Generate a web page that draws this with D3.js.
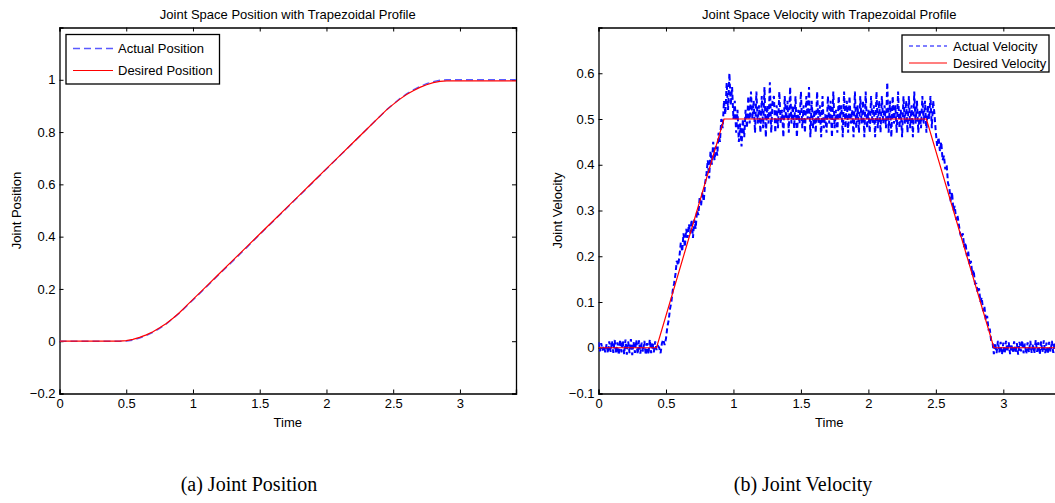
<!DOCTYPE html>
<html>
<head>
<meta charset="utf-8">
<script src="https://cdn.jsdelivr.net/npm/d3@7"></script>
<style>
  body { margin: 0; background: #fff; }
  svg text { font-family: "Liberation Sans", Arial, sans-serif; fill: #000; }
  .caption { font-family: "Liberation Serif", "DejaVu Serif", serif; }
</style>
</head>
<body>
<div id="svg_div"></div>
<script>
// Position data (time, desired, actual)
var posTime = [0, 0.1, 0.2, 0.3, 0.4, 0.45, 0.5, 0.55, 0.6, 0.65, 0.7, 0.75, 0.8, 0.85, 0.9, 0.95,
    1.0, 1.1, 1.2, 1.3, 1.4, 1.5, 1.6, 1.7, 1.8, 1.9, 2.0, 2.1, 2.2, 2.3, 2.4, 2.45,
    2.5, 2.55, 2.6, 2.65, 2.7, 2.75, 2.8, 2.85, 2.9, 3.0, 3.2, 3.42];
var posDesired = [0, 0, 0, 0, 0, 0.0002, 0.0025, 0.0072, 0.0145, 0.0242, 0.0365, 0.0512, 0.068, 0.088, 0.11, 0.135,
    0.16, 0.21, 0.26, 0.31, 0.36, 0.41, 0.46, 0.51, 0.56, 0.61, 0.66, 0.71, 0.76, 0.81, 0.86, 0.885,
    0.906, 0.926, 0.944, 0.958, 0.971, 0.981, 0.989, 0.994, 0.996, 0.996, 0.996, 0.996];
var posActual = [0, 0, 0, 0, 0, 0, 0.0005, 0.004, 0.012, 0.022, 0.034, 0.049, 0.066, 0.087, 0.108, 0.133,
    0.158, 0.207, 0.258, 0.307, 0.357, 0.408, 0.458, 0.508, 0.558, 0.608, 0.659, 0.709, 0.759, 0.81, 0.86, 0.885,
    0.907, 0.928, 0.946, 0.961, 0.974, 0.985, 0.993, 0.998, 1.0, 1.0, 1.0, 1.0];

// Velocity data
var velDesiredTime = [0, 0.43, 0.93, 2.43, 2.93, 3.42];
var velDesired = [0, 0, 0.5, 0.5, 0, 0];
var velStep = 0.01;   // sample spacing of the measured velocity
var velActual = [
    0.012, -0.008, 0.010, -0.006, 0.004, -0.010, 0.008, -0.012, 0.014, -0.009,
    0.015, -0.011, 0.017, -0.013, 0.012, -0.016, 0.018, -0.010, 0.016, -0.014,
    0.018, -0.015, 0.014, -0.012, 0.019, -0.016, 0.013, -0.011, 0.017, -0.014,
    0.016, -0.013, 0.011, -0.009, 0.015, -0.016, 0.010, -0.015, 0.018, -0.012,
    0.012, -0.010, 0.014, -0.005, 0.004, 0.000, -0.012, 0.010, 0.018, 0.006,
    0.020, 0.045, 0.060, 0.085, 0.100, 0.125, 0.140, 0.160, 0.190, 0.180,
    0.200, 0.230, 0.210, 0.250, 0.220, 0.260, 0.240, 0.270, 0.250, 0.280,
    0.240, 0.280, 0.260, 0.300, 0.290, 0.330, 0.310, 0.340, 0.320, 0.360,
    0.380, 0.410, 0.370, 0.430, 0.400, 0.450, 0.410, 0.440, 0.420, 0.470,
    0.450, 0.500, 0.480, 0.540, 0.510, 0.580, 0.520, 0.600, 0.530, 0.570,
    0.500, 0.540, 0.470, 0.520, 0.450, 0.490, 0.440, 0.500, 0.460, 0.520,
    0.480, 0.550, 0.490, 0.560, 0.500, 0.540, 0.470, 0.560, 0.490, 0.530,
    0.470, 0.550, 0.480, 0.570, 0.460, 0.530, 0.490, 0.580, 0.470, 0.540,
    0.550, 0.470, 0.530, 0.480, 0.560, 0.490, 0.520, 0.460, 0.550, 0.500,
    0.540, 0.470, 0.570, 0.490, 0.530, 0.480, 0.550, 0.460, 0.520, 0.490,
    0.560, 0.480, 0.530, 0.470, 0.550, 0.500, 0.570, 0.460, 0.540, 0.480,
    0.520, 0.470, 0.560, 0.490, 0.530, 0.460, 0.550, 0.480, 0.510, 0.470,
    0.550, 0.490, 0.540, 0.460, 0.560, 0.480, 0.520, 0.470, 0.550, 0.500,
    0.530, 0.460, 0.560, 0.480, 0.540, 0.470, 0.550, 0.490, 0.520, 0.460,
    0.560, 0.480, 0.530, 0.470, 0.550, 0.490, 0.540, 0.460, 0.560, 0.480,
    0.520, 0.470, 0.550, 0.490, 0.530, 0.460, 0.560, 0.480, 0.540, 0.470,
    0.550, 0.490, 0.530, 0.480, 0.580, 0.470, 0.540, 0.460, 0.550, 0.490,
    0.530, 0.470, 0.560, 0.480, 0.520, 0.460, 0.550, 0.490, 0.540, 0.470,
    0.550, 0.480, 0.530, 0.460, 0.560, 0.490, 0.540, 0.470, 0.520, 0.480,
    0.550, 0.490, 0.540, 0.470, 0.530, 0.500, 0.550, 0.480, 0.540, 0.510,
    0.470, 0.440, 0.460, 0.430, 0.450, 0.410, 0.420, 0.390, 0.400, 0.360,
    0.350, 0.320, 0.340, 0.300, 0.310, 0.280, 0.290, 0.270, 0.250, 0.240,
    0.250, 0.220, 0.230, 0.200, 0.210, 0.180, 0.190, 0.160, 0.170, 0.140,
    0.140, 0.120, 0.130, 0.100, 0.110, 0.080, 0.090, 0.060, 0.070, 0.040,
    0.040, 0.015, 0.012, -0.014, 0.010, -0.012, 0.015, -0.010, 0.013, -0.015,
    0.011, -0.013, 0.015, -0.009, 0.012, -0.014, 0.008, -0.011, 0.014, -0.012,
    0.010, -0.015, 0.013, -0.008, 0.016, -0.012, 0.009, -0.014, 0.012, -0.010,
    0.015, -0.011, 0.008, -0.013, 0.017, -0.009, 0.012, -0.015, 0.014, -0.010,
    0.016, -0.012, 0.011, -0.014, 0.013, -0.009, 0.015, -0.011, 0.012, -0.013,
    0.010, -0.008, 0.012
];

// Tick values
var xTicks = [0, 0.5, 1, 1.5, 2, 2.5, 3];
var posTicks = [-0.2, 0, 0.2, 0.4, 0.6, 0.8, 1];
var velTicks = [-0.1, 0, 0.1, 0.2, 0.3, 0.4, 0.5, 0.6];

var svg = d3.select("#svg_div").append("svg").attr("width", 1055).attr("height", 503);

function drawPanel(opts) {
    var m = opts.box;
    var w = m.right - m.left, h = m.bottom - m.top;
    var g = svg.append("g").attr("transform", "translate(" + [m.left, m.top] + ")");

    var x = d3.scaleLinear().domain([0, 3.42]).range([0, w]);
    var y = d3.scaleLinear().domain(opts.yDomain).range([h, 0]);

    g.append("clipPath").attr("id", opts.id + "-clip")
        .append("rect").attr("width", w).attr("height", h);

    // Axes with inward ticks on all four sides
    var tl = 4;
    g.append("g").attr("transform", "translate(0," + h + ")")
        .call(d3.axisBottom(x).tickValues(xTicks).tickSize(-tl).tickPadding(5).tickFormat(d3.format("")));
    g.append("g")
        .call(d3.axisTop(x).tickValues(xTicks).tickSize(-tl).tickFormat(""));
    g.append("g")
        .call(d3.axisLeft(y).tickValues(opts.yTicks).tickSize(-tl).tickPadding(4)
            .tickFormat(function(d) { return d < 0 ? "\u2212" + Math.abs(d) : d; }));
    g.append("g").attr("transform", "translate(" + w + ",0)")
        .call(d3.axisRight(y).tickValues(opts.yTicks).tickSize(-tl).tickFormat(""));
    g.selectAll(".domain").attr("stroke", "#000").attr("stroke-width", 1.3);
    g.selectAll(".tick line").attr("stroke", "#000");
    g.selectAll(".tick text").style("font-size", "13px").style("font-family", "Liberation Sans, Arial, sans-serif");

    var lines = g.append("g").attr("clip-path", "url(#" + opts.id + "-clip)");
    lines.append("path")
        .datum(opts.actual)
        .attr("d", d3.line().x(function(d) { return x(d[0]); }).y(function(d) { return y(d[1]); }))
        .attr("fill", "none")
        .attr("stroke", opts.blue)
        .attr("stroke-width", opts.blueWidth)
        .attr("stroke-dasharray", opts.dash);
    lines.append("path")
        .datum(opts.desired)
        .attr("d", d3.line().x(function(d) { return x(d[0]); }).y(function(d) { return y(d[1]); }))
        .attr("fill", "none")
        .attr("stroke", "#ff0000")
        .attr("stroke-width", 1.2);

    // Titles and labels
    g.append("text").attr("x", w / 2).attr("y", -9).attr("text-anchor", "middle")
        .style("font-size", "13px").text(opts.title);
    g.append("text").attr("x", w / 2).attr("y", h + 33).attr("text-anchor", "middle")
        .style("font-size", "13px").text("Time");
    g.append("text").attr("transform", "translate(" + opts.yLabelX + "," + h / 2 + ") rotate(-90)")
        .attr("text-anchor", "middle").style("font-size", "13px").text(opts.yLabel);

    // Legend
    var L = opts.legend;
    var lg = g.append("g").attr("transform", "translate(" + [L.x, L.y] + ")");
    lg.append("rect").attr("width", L.w).attr("height", L.h)
        .attr("fill", "#fff").attr("stroke", "#000").attr("stroke-width", 1.3);
    L.labels.forEach(function(label, i) {
        var yy = L.rowY[i];
        lg.append("line").attr("x1", L.lineX0).attr("x2", L.lineX1).attr("y1", yy).attr("y2", yy)
            .attr("stroke", i === 0 ? opts.blue : "#ff0000")
            .attr("stroke-width", i === 0 ? opts.legendBlueWidth : 1.2)
            .attr("stroke-dasharray", i === 0 ? opts.legendDash : null);
        lg.append("text").attr("x", L.textX).attr("y", yy + 4.5)
            .style("font-size", "13px").text(label);
    });
}

drawPanel({
    id: "pos",
    box: {left: 59.5, right: 516, top: 27.5, bottom: 393.5},
    yDomain: [-0.2, 1.2],
    yTicks: posTicks,
    desired: posTime.map(function(t, i) { return [t, posDesired[i]]; }),
    actual: posTime.map(function(t, i) { return [t, posActual[i]]; }),
    blue: "#5a5aff", blueWidth: 1.4, dash: "7,4", legendBlueWidth: 1.4, legendDash: "7,4",
    title: "Joint Space Position with Trapezoidal Profile",
    yLabel: "Joint Position", yLabelX: -38.5,
    legend: {x: 6.5, y: 7, w: 153.5, h: 49.5, rowY: [14, 36], lineX0: 7, lineX1: 47, textX: 52,
        labels: ["Actual Position", "Desired Position"]}
});

drawPanel({
    id: "vel",
    box: {left: 598.5, right: 1060, top: 27.5, bottom: 393.5},
    yDomain: [-0.1, 0.7],
    yTicks: velTicks,
    desired: velDesiredTime.map(function(t, i) { return [t, velDesired[i]]; }),
    actual: velActual.map(function(v, i) { return [i * velStep, v]; }),
    blue: "#0000ff", blueWidth: 2, dash: "5,3", legendBlueWidth: 1.2, legendDash: "4,3",
    title: "Joint Space Velocity with Trapezoidal Profile",
    yLabel: "Joint Velocity", yLabelX: -37,
    legend: {x: 303.5, y: 7.5, w: 147, h: 37, rowY: [11, 28], lineX0: 7, lineX1: 45, textX: 51,
        labels: ["Actual Velocity", "Desired Velocity"]}
});

// Sub-figure captions
svg.append("text").attr("class", "caption").attr("x", 249).attr("y", 491)
    .attr("text-anchor", "middle").style("font-size", "20px").text("(a) Joint Position");
svg.append("text").attr("class", "caption").attr("x", 803).attr("y", 491)
    .attr("text-anchor", "middle").style("font-size", "20px").text("(b) Joint Velocity");
</script>
</body>
</html>
